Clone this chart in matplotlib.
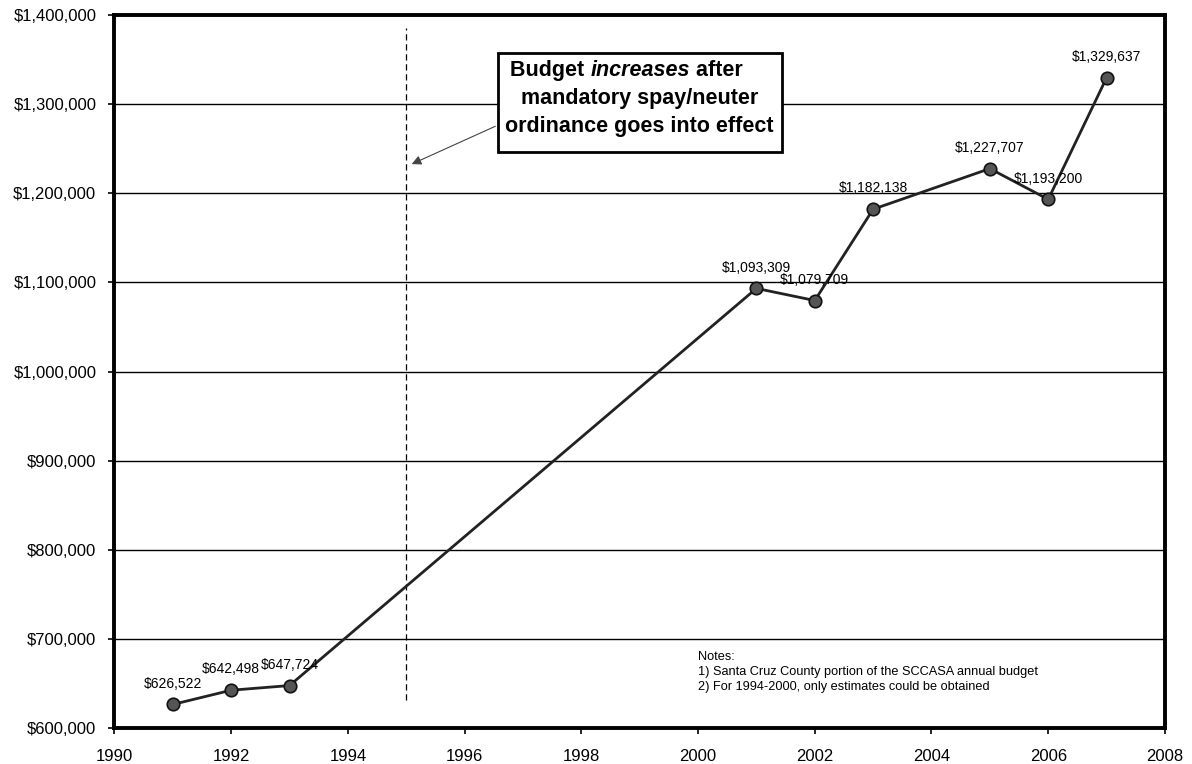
import matplotlib
matplotlib.use('Agg')
import matplotlib.pyplot as plt
from matplotlib.patches import Rectangle
from matplotlib.ticker import FuncFormatter

plt.rcParams['font.family'] = ['Liberation Sans', 'DejaVu Sans']

# SCCASA budget, Santa Cruz County portion
years = [1991, 1992, 1993, 2001, 2002, 2003, 2005, 2006, 2007]
budget = [626522, 642498, 647724, 1093309, 1079709, 1182138, 1227707, 1193200, 1329637]

ordinance_year = 1995
xticks = list(range(1990, 2009, 2))
yticks = list(range(600000, 1400001, 100000))

fig = plt.figure(figsize=(11.92, 7.64), dpi=100)
ax = fig.add_axes([0.096, 0.047, 0.8813, 0.9333])

ax.set_xlim(1990, 2008)
ax.set_ylim(600000, 1400000)
ax.set_xticks(xticks)
ax.set_yticks(yticks)
ax.yaxis.set_major_formatter(FuncFormatter(lambda v, p: '${:,.0f}'.format(v)))
ax.tick_params(axis='both', labelsize=12, length=4, width=1.2, direction='out')
ax.tick_params(axis='x', pad=11)
ax.tick_params(axis='y', pad=9)
for s in ax.spines.values():
    s.set_linewidth(2.8)

ax.yaxis.grid(True, color='black', linewidth=1.0)
ax.set_axisbelow(True)

# spay/neuter ordinance marker
ax.plot([ordinance_year, ordinance_year], [631000, 1385000], color='black',
        linestyle=(0, (5, 3)), linewidth=0.9, zorder=2)

ax.plot(years, budget, color='#222222', linewidth=2, marker='o', markersize=9,
        markerfacecolor='#555555', markeredgecolor='#111111', markeredgewidth=1.2,
        zorder=4)

for x, y in zip(years, budget):
    ax.annotate('${:,}'.format(y), (x, y), xytext=(0, 15), textcoords='offset points',
                ha='center', va='center', fontsize=10, zorder=5)

# callout box
ax.add_patch(Rectangle((1996.57, 1246000), 4.86, 111500, facecolor='white',
                       edgecolor='black', linewidth=2, zorder=3))
ax.annotate('', xy=(1995.05, 1231500), xytext=(1996.57, 1276500),
            arrowprops=dict(arrowstyle='-|>', color='#444444', lw=0.8,
                            mutation_scale=14), zorder=3)

fs = 15.5
t1 = ax.text(1996.78, 1337500, 'Budget ', fontsize=fs, fontweight='bold',
             ha='left', va='center', zorder=5)
t2 = ax.annotate('increases', xy=(1, 0), xycoords=t1, va='bottom', ha='left',
                 fontsize=fs, fontweight='bold', fontstyle='italic', zorder=5)
t3 = ax.annotate(' after', xy=(1, 0), xycoords=t2, va='bottom', ha='left',
                 fontsize=fs, fontweight='bold', zorder=5)
ax.text(1999.0, 1306000, 'mandatory spay/neuter', fontsize=fs, fontweight='bold',
        ha='center', va='center', zorder=5)
ax.text(1999.0, 1275000, 'ordinance goes into effect', fontsize=fs, fontweight='bold',
        ha='center', va='center', zorder=5)

ax.text(2000.0, 663000, 'Notes:\n1) Santa Cruz County portion of the SCCASA annual budget\n'
        '2) For 1994-2000, only estimates could be obtained',
        fontsize=9.2, ha='left', va='center', linespacing=1.3, zorder=5)

fig.savefig('out.png', dpi=100)
